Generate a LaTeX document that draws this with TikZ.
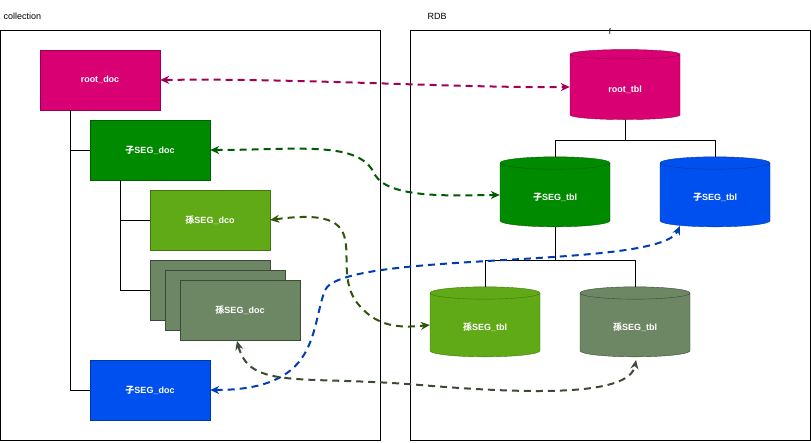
\documentclass[tikz,border=0pt]{standalone}
\usepackage{fontspec}
\setmainfont{Liberation Sans}
\newfontfamily\cjk{Noto Sans CJK SC}
\usetikzlibrary{shapes.geometric,arrows.meta}
\begin{document}
\begin{tikzpicture}[x=1pt,y=-1pt,font=\fontsize{9}{11}\selectfont,
 box/.style={draw=#1!70!black,fill=#1,minimum width=120,minimum height=60,text=white,font=\fontsize{9}{11}\selectfont\bfseries,inner sep=0},
 cyl/.style={cylinder,shape border rotate=90,aspect=0.28,draw=#1!70!black,fill=#1,minimum width=110,minimum height=70,text=white,font=\fontsize{9}{11}\selectfont\bfseries,inner sep=0},
 frame/.style={draw=black,thin},
 tree/.style={draw=black,thin},
 con/.style={draw=#1,line width=2pt,dash pattern=on 7pt off 5pt,{Stealth[length=9pt,width=8pt]}-{Stealth[length=9pt,width=8pt]}}]
\definecolor{cRoot}{HTML}{D80073}
\definecolor{cG}{HTML}{008A00}
\definecolor{cL}{HTML}{60A917}
\definecolor{cO}{HTML}{6D8764}
\definecolor{cB}{HTML}{0050EF}
\useasboundingbox (0,0) rectangle (811,442);
\fill[white] (0,0) rectangle (811,442);
\node[frame,minimum width=380,minimum height=410,inner sep=0,anchor=north west] (coll) at (0,30) {};
\node[frame,minimum width=400,minimum height=410,inner sep=0,anchor=north west] (rdb) at (410,30) {};
\node[anchor=west] (lc) at (0,16) {collection};
\node[anchor=west] (lr) at (424,16) {RDB};
\node[inner sep=0] (f) at (610,32) {\fontsize{8}{8}\selectfont f};
\node[box=cRoot] (root) at (100,80) {root\_doc};
\node[box=cG] (s1) at (150,150) {{\cjk 子}SEG\_doc};
\node[box=cL] (g1) at (210,220) {{\cjk 孫}SEG\_dco};
\node[box=cO,draw=cO!55!black] (g2a) at (210,290) {};
\node[box=cO,draw=cO!55!black] (g2b) at (225,300) {};
\node[box=cO,draw=cO!55!black] (g2) at (240,310) {{\cjk 孫}SEG\_doc};
\node[box=cB] (s2) at (150,390) {{\cjk 子}SEG\_doc};
\draw[tree] (70,110) -- (70,390) -- (s2.west);
\draw[tree] (70,150) -- (s1.west);
\draw[tree] (120,180) -- (120,290) -- (g2a.west);
\draw[tree] (120,220) -- (g1.west);
\node[cyl=cRoot] (rt) at (625,87) {\raisebox{-12pt}{root\_tbl}};
\node[cyl=cG] (st1) at (555,195) {\raisebox{-12pt}{{\cjk 子}SEG\_tbl}};
\node[cyl=cB] (st2) at (715,195) {\raisebox{-12pt}{{\cjk 子}SEG\_tbl}};
\node[cyl=cL] (gt1) at (485,325) {\raisebox{-12pt}{{\cjk 孫}SEG\_tbl}};
\node[cyl=cO,draw=cO!55!black] (gt2) at (635,325) {\raisebox{-12pt}{{\cjk 孫}SEG\_tbl}};
\draw[tree] (rt.south) -- (625,140) -- (555,140) -- (st1.top);
\draw[tree] (625,140) -- (715,140) -- (st2.top);
\draw[tree] (st1.south) -- (555,260) -- (485,260) -- (gt1.top);
\draw[tree] (555,260) -- (635,260) -- (gt2.top);
\draw[con=cRoot!75!black] (root.east) .. controls (300,78) and (450,88) .. (rt.west);
\draw[con=cG!65!black] (s1.east) .. controls (300,150) and (360,140) .. (375,175) .. controls (390,200) and (460,195) .. (st1.west);
\draw[con=cL!50!black] (g1.east) .. controls (380,205) and (330,260) .. (355,300) .. controls (375,328) and (400,328) .. (gt1.west);
\draw[con=cB!75!black] (s2.east) .. controls (320,390) and (310,330) .. (325,290) .. controls (345,250) and (660,270) .. (680,226);
\draw[con=cO!55!black] (237,341) .. controls (250,390) and (300,375) .. (420,385) .. controls (540,395) and (630,395) .. (636,360);
\end{tikzpicture}
\end{document}
